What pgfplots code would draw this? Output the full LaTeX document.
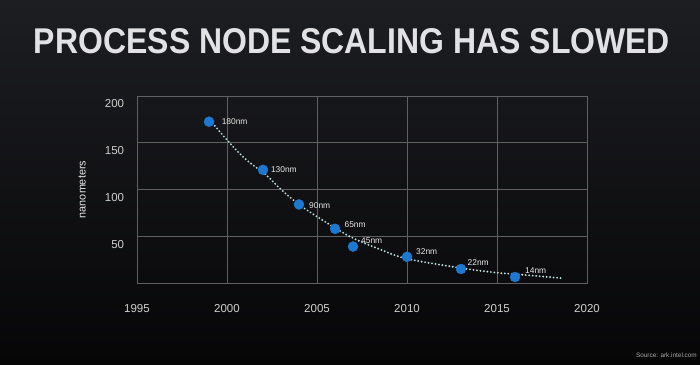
\documentclass[border=0pt]{standalone}
\usepackage{pgfplots}
\pgfplotsset{compat=1.18}
\usepackage{fontspec}
\setmainfont{Liberation Sans}
\definecolor{bgtop}{HTML}{1D1E22}
\definecolor{bgbot}{HTML}{060607}
\definecolor{titlecol}{HTML}{E2E2E4}
\definecolor{gridcol}{HTML}{606060}
\definecolor{tickcol}{HTML}{D0D0D0}
\definecolor{labcol}{HTML}{E8E8E8}
\definecolor{dotblue}{HTML}{1C78D0}
\definecolor{trendcol}{HTML}{BCDDDA}
\definecolor{srccol}{HTML}{A8A8A8}
\begin{document}
\begin{tikzpicture}[x=1pt,y=1pt]
\useasboundingbox (0,0) rectangle (700,364);
\shade[top color=bgtop, bottom color=bgbot] (0,0) rectangle (700,364);
\node[inner sep=0pt] at (352,322.5) {\color{titlecol}\resizebox{636pt}{25pt}{\bfseries PROCESS NODE SCALING HAS SLOWED}};
\node[anchor=east, inner sep=0pt, text=srccol, font=\fontsize{6.4}{7.5}\selectfont] at (697,9) {Source: ark.intel.com};
\begin{axis}[
  at={(137pt,81pt)}, anchor=south west,
  width=450pt, height=187pt, scale only axis,
  xmin=1995, xmax=2020, ymin=0, ymax=200,
  xtick={1995,2000,2005,2010,2015,2020},
  ytick={50,100,150,200},
  grid=major,
  major tick length=0pt,
  grid style={draw=gridcol, line width=0.9pt},
  axis line style={draw=gridcol, line width=0.9pt},
  /pgf/number format/assume math mode=true,
  /pgf/number format/set thousands separator={},
  tick label style={text=tickcol, font=\fontsize{11.5}{13}\selectfont},
  xticklabel style={anchor=center, inner sep=0pt, yshift=-26pt},
  yticklabel style={anchor=east, inner sep=0pt, xshift=-12.7pt, yshift=-8pt},
  ylabel={nanometers},
  ylabel style={at={(axis description cs:-0.1216,0.5)}, anchor=center, text=labcol, font=\fontsize{10.8}{12}\selectfont},
  clip=false,
]
\addplot[trendcol, line width=2.1pt, dash pattern=on 0pt off 3.5pt, line cap=round, smooth, tension=0.6] coordinates {
  (1999.2,171) (2000,153) (2001,133) (2002.2,115) (2003,100) (2004,84) (2005,71)
  (2006,59) (2007,48) (2008.5,36) (2010,26) (2013,16) (2015,11) (2016,9.5) (2018.7,5)
};
\addplot[only marks, mark=*, mark size=5pt, dotblue, mark options={draw=dotblue, fill=dotblue},
  nodes near coords, point meta=explicit symbolic,
  visualization depends on={value \thisrow{dx} \as \dx},
  visualization depends on={value \thisrow{dy} \as \dy},
  nodes near coords style={anchor=west, inner sep=0pt, xshift=\dx pt, yshift=\dy pt, text=labcol, font=\fontsize{8.4}{9.5}\selectfont}]
  table[x=x, y=y, meta=lab] {
x y lab dx dy
1999 172.5 180nm 12.6 0
2002 121 130nm 7.8 0
2004 84 90nm 10 -0.7
2006 58 65nm 9.4 4.4
2007 39 45nm 8 6
2010 28 32nm 9 5
2013 15 22nm 6.5 6.7
2016 6.4 14nm 10 6
};
\end{axis}
\end{tikzpicture}
\end{document}
